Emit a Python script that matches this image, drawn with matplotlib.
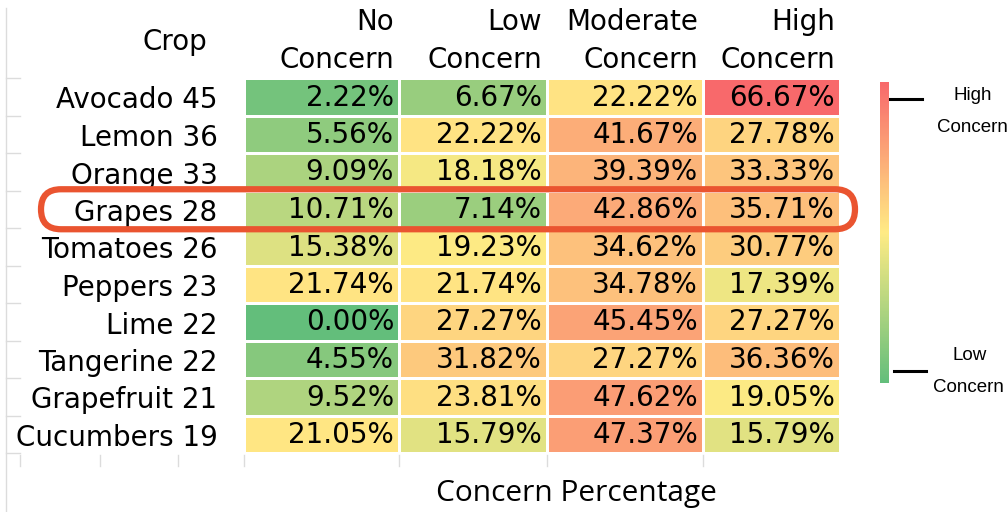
import numpy as np
import matplotlib
matplotlib.use("Agg")
import matplotlib.pyplot as plt
from matplotlib.colors import LinearSegmentedColormap, TwoSlopeNorm
from matplotlib.patches import FancyBboxPatch
import matplotlib.cm as cm

crops = ["Avocado", "Lemon", "Orange", "Grapes", "Tomatoes", "Peppers",
         "Lime", "Tangerine", "Grapefruit", "Cucumbers"]
counts = [45, 36, 33, 28, 26, 23, 22, 22, 21, 19]
columns = ["No\nConcern", "Low\nConcern", "Moderate\nConcern", "High\nConcern"]
no_concern = [2.22, 5.56, 9.09, 10.71, 15.38, 21.74, 0.00, 4.55, 9.52, 21.05]
low_concern = [6.67, 22.22, 18.18, 7.14, 19.23, 21.74, 27.27, 31.82, 23.81, 15.79]
moderate_concern = [22.22, 41.67, 39.39, 42.86, 34.62, 34.78, 45.45, 27.27, 47.62, 47.37]
high_concern = [66.67, 27.78, 33.33, 35.71, 30.77, 17.39, 27.27, 36.36, 19.05, 15.79]
highlight = "Grapes"

vals = np.column_stack([no_concern, low_concern, moderate_concern, high_concern])

# excel style 3 colour scale (green - yellow - red)
cmap = LinearSegmentedColormap.from_list("gyr", ["#63BE7B", "#FFEB84", "#F8696B"])
norm = TwoSlopeNorm(vmin=vals.min(), vcenter=19.5, vmax=vals.max())

W, H = 1007, 512
fig = plt.figure(figsize=(W / 100, H / 100), dpi=100)
main_font = "DejaVu Sans"
small_font = "Liberation Sans"
fs = 20

# column widths in pixels (layout)
col_w = [155, 148, 156, 137]
xedges = np.concatenate([[0], np.cumsum(col_w)])
yedges = np.arange(len(crops) + 1)

ax = fig.add_axes([244 / W, (H - 453) / H, xedges[-1] / W, 375 / H])
ax.pcolormesh(xedges, yedges, vals, cmap=cmap, norm=norm,
              edgecolors="white", linewidth=0.8)
ax.set_xlim(xedges[0], xedges[-1])
ax.set_ylim(len(crops), 0)
for s in ax.spines.values():
    s.set_visible(False)

for i in range(len(crops)):
    for j in range(len(columns)):
        ax.text(xedges[j + 1] - 5, i + 0.52, f"{vals[i, j]:.2f}%", ha="right",
                va="center", fontsize=fs, family=main_font, color="black")

ax.set_xticks([])
ax.set_yticks(np.arange(len(crops)) + 0.52)
ax.set_yticklabels([f"{c} {n}" for c, n in zip(crops, counts)],
                   fontsize=fs, family=main_font)
ax.tick_params(axis="y", length=0, pad=19)

# column headers
for j, lab in enumerate(columns):
    top, bottom = lab.split("\n")
    ax.annotate(bottom, (xedges[j + 1] - 5, 1), xycoords=("data", "axes fraction"),
                xytext=(0, 13), textcoords="offset points", ha="right",
                va="center", fontsize=fs, family=main_font)
    ax.annotate(top, (xedges[j + 1] - 5, 1), xycoords=("data", "axes fraction"),
                xytext=(0, 40), textcoords="offset points", ha="right",
                va="center", fontsize=fs, family=main_font)

fig.text(175 / W, 1 - 42 / H, "Crop", ha="center", va="center",
         fontsize=fs, family=main_font)
fig.text(576 / W, 1 - 493 / H, "Concern Percentage", ha="center", va="center",
         fontsize=21.5, family="Open Sans")

# colour legend
cax = fig.add_axes([880 / W, (H - 383) / H, 9 / W, 301 / H])
sm = cm.ScalarMappable(cmap=cmap, norm=norm)
cb = fig.colorbar(sm, cax=cax)
cb.outline.set_visible(False)
cb.set_ticks([])

# overlay in pixel coords for decoration
ov = fig.add_axes([0, 0, 1, 1], zorder=5)
ov.set_xlim(0, W)
ov.set_ylim(H, 0)
ov.axis("off")
ov.patch.set_alpha(0)

ov.plot([890, 922], [99, 99], color="black", lw=2.2)
ov.plot([894, 926], [371, 371], color="black", lw=2.2)
ov.text(973, 95, "High", ha="center", va="center", fontsize=13.5, family=small_font)
ov.text(937, 127, "Concern", ha="left", va="center", fontsize=13.5, family=small_font)
ov.text(970, 355, "Low", ha="center", va="center", fontsize=13.5, family=small_font)
ov.text(933, 387, "Concern", ha="left", va="center", fontsize=13.5, family=small_font)

# faint leftover gridlines on the left
grey = "#dcdcdc"
ov.plot([6, 6], [8, H], color=grey, lw=1)
for k in range(len(crops) + 1):
    yy = H - ax.transData.transform((0, k))[1]
    ov.plot([6, 20], [yy, yy], color=grey, lw=1)
for xx in [20, 100, 178, 244, 399, 547, 703]:
    ov.plot([xx, xx], [455, 466], color=grey, lw=1)

# highlight box around one row
r = crops.index(highlight)
yc = H - ax.transData.transform((0, r + 0.5))[1]
box = FancyBboxPatch((41, yc - 20), 814, 40,
                     boxstyle="round,pad=0,rounding_size=20",
                     fill=False, edgecolor="#EA5430", lw=4.5)
ov.add_patch(box)

fig.savefig("out.png", dpi=100)
